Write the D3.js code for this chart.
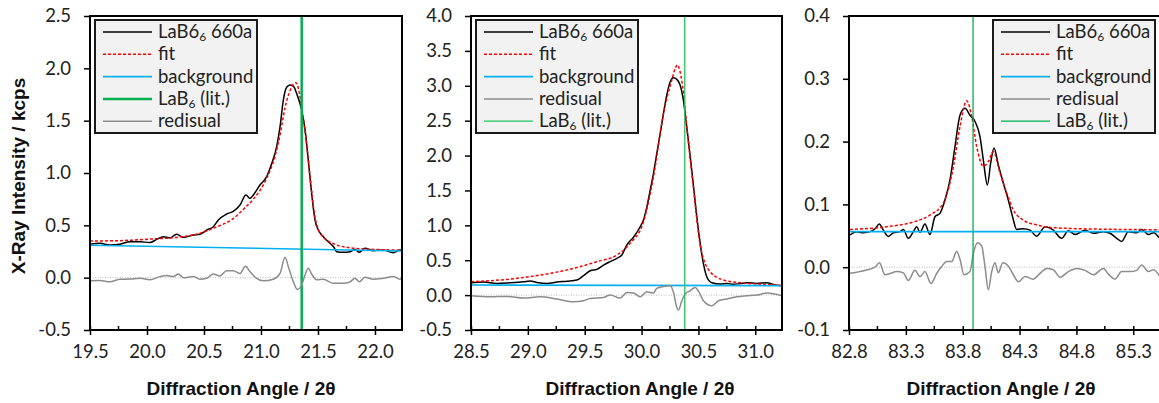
<!DOCTYPE html>
<html>
<head>
<meta charset="utf-8">
<script src="https://cdn.jsdelivr.net/npm/d3@7.9.0/dist/d3.min.js"></script>
<style>
  body { margin: 0; background: #fff; }
  text { font-family: Lato, "Open Sans", sans-serif; fill: #222; }
  .title { font-family: "Liberation Sans", Arial, sans-serif; font-weight: bold; fill: #111; }
</style>
</head>
<body>
<svg id="chart" width="1159" height="403"></svg>
<script>
// ---- panel 1 : LaB6 (100) ----
const p1Data = [[19.5,0.318],[19.588,0.328],[19.675,0.312],[19.763,0.32],[19.851,0.344],[19.939,0.344],[20.026,0.335],[20.085,0.366],[20.143,0.392],[20.202,0.382],[20.26,0.414],[20.319,0.385],[20.406,0.408],[20.465,0.414],[20.523,0.455],[20.582,0.487],[20.626,0.551],[20.699,0.608],[20.757,0.634],[20.816,0.694],[20.868,0.79],[20.904,0.758],[20.933,0.79],[20.991,0.885],[21.05,0.965],[21.094,1.09],[21.137,1.25],[21.167,1.44],[21.196,1.697],[21.225,1.819],[21.254,1.841],[21.284,1.83],[21.313,1.76],[21.357,1.6],[21.386,1.42],[21.415,1.12],[21.445,0.8],[21.474,0.55],[21.503,0.455],[21.547,0.391],[21.605,0.328],[21.64,0.29],[21.664,0.248],[21.722,0.242],[21.781,0.248],[21.825,0.27],[21.863,0.242],[21.912,0.28],[21.985,0.258],[22.073,0.264],[22.161,0.239],[22.219,0.264],[22.24,0.26]];
const p1Fit = [[19.5,0.35],[19.8,0.355],[20.03,0.369],[20.3,0.39],[20.465,0.424],[20.6,0.48],[20.757,0.565],[20.87,0.68],[20.933,0.75],[21.05,0.95],[21.12,1.15],[21.17,1.38],[21.21,1.62],[21.26,1.8],[21.307,1.863],[21.33,1.8],[21.36,1.6],[21.4,1.28],[21.44,0.87],[21.47,0.6],[21.5,0.47],[21.55,0.385],[21.635,0.325],[21.75,0.29],[21.9,0.275],[22.05,0.268],[22.24,0.262]];
const p1Background = [[19.5,0.31],[22.24,0.255]];
const p1Residual = [[19.5,-0.03],[19.588,-0.028],[19.675,-0.04],[19.763,-0.015],[19.851,-0.013],[19.939,-0.006],[20.026,-0.02],[20.114,0.01],[20.173,0.02],[20.231,0.01],[20.275,0.035],[20.319,0.0],[20.406,0.01],[20.465,-0.015],[20.523,-0.006],[20.582,0.035],[20.64,0.016],[20.699,0.067],[20.757,0.067],[20.816,0.04],[20.864,0.108],[20.904,0.057],[20.962,-0.006],[21.02,-0.03],[21.108,-0.015],[21.167,0.04],[21.211,0.195],[21.24,0.105],[21.284,-0.04],[21.319,-0.111],[21.357,-0.07],[21.386,0.025],[21.415,0.089],[21.444,0.035],[21.488,-0.02],[21.547,-0.015],[21.635,-0.054],[21.722,-0.054],[21.781,-0.04],[21.825,-0.006],[21.863,-0.04],[21.912,0.003],[21.985,-0.015],[22.073,-0.006],[22.161,0.01],[22.219,-0.015],[22.24,-0.01]];
const p1Lit = 21.357;
const p1XTicks = [19.5, 20.0, 20.5, 21.0, 21.5, 22.0];
const p1YTicks = [-0.5, 0.0, 0.5, 1.0, 1.5, 2.0, 2.5];

// ---- panel 2 : LaB6 (110) ----
const p2Data = [[28.5,0.178],[28.611,0.187],[28.728,0.168],[28.846,0.178],[28.963,0.192],[29.021,0.202],[29.08,0.182],[29.168,0.168],[29.256,0.187],[29.344,0.2],[29.431,0.216],[29.49,0.278],[29.549,0.35],[29.607,0.369],[29.666,0.43],[29.724,0.48],[29.783,0.527],[29.827,0.575],[29.871,0.72],[29.929,0.83],[29.988,0.98],[30.017,1.076],[30.047,1.267],[30.076,1.506],[30.105,1.745],[30.134,2.03],[30.164,2.318],[30.193,2.605],[30.222,2.868],[30.252,3.059],[30.28,3.115],[30.31,3.092],[30.339,3.011],[30.369,2.78],[30.398,2.4],[30.427,2.0],[30.457,1.56],[30.486,1.12],[30.515,0.75],[30.544,0.45],[30.574,0.26],[30.618,0.178],[30.691,0.159],[30.75,0.168],[30.808,0.154],[30.867,0.165],[30.925,0.178],[31.013,0.168],[31.101,0.178],[31.16,0.154],[31.24,0.13]];
const p2Fit = [[28.5,0.192],[28.816,0.225],[29.109,0.287],[29.402,0.383],[29.607,0.479],[29.783,0.575],[29.9,0.742],[30.017,1.052],[30.105,1.697],[30.193,2.605],[30.266,3.083],[30.296,3.25],[30.316,3.298],[30.339,3.2],[30.369,2.89],[30.398,2.41],[30.457,1.52],[30.515,0.72],[30.559,0.455],[30.603,0.335],[30.72,0.216],[30.867,0.178],[31.013,0.159],[31.24,0.14]];
const p2Background = [[28.5,0.145],[31.24,0.135]];
const p2Residual = [[28.5,-0.01],[28.67,-0.024],[28.816,-0.019],[28.963,-0.043],[29.109,-0.024],[29.256,-0.057],[29.402,-0.096],[29.49,-0.08],[29.549,-0.048],[29.666,-0.033],[29.724,0.0],[29.812,-0.043],[29.871,0.038],[29.929,0.029],[29.988,-0.024],[30.047,0.048],[30.105,0.029],[30.134,0.096],[30.193,0.124],[30.252,0.135],[30.281,0.038],[30.31,-0.177],[30.325,-0.215],[30.354,-0.08],[30.383,0.014],[30.427,0.062],[30.471,0.11],[30.501,0.053],[30.544,-0.08],[30.618,-0.153],[30.676,-0.08],[30.75,-0.057],[30.837,-0.024],[30.925,-0.01],[31.013,0.0],[31.101,0.029],[31.24,-0.01]];
const p2Lit = 30.38;
const p2XTicks = [28.5, 29.0, 29.5, 30.0, 30.5, 31.0];
const p2YTicks = [-0.5, 0.0, 0.5, 1.0, 1.5, 2.0, 2.5, 3.0, 3.5, 4.0];

// ---- panel 3 : LaB6 (high angle) ----
const p3Data = [[82.809,0.0513],[82.867,0.0566],[82.926,0.055],[82.985,0.0566],[83.029,0.0613],[83.067,0.0688],[83.102,0.059],[83.146,0.049],[83.19,0.055],[83.249,0.0566],[83.278,0.06],[83.322,0.046],[83.366,0.0566],[83.395,0.0645],[83.424,0.0555],[83.468,0.0688],[83.512,0.052],[83.556,0.0803],[83.6,0.0858],[83.644,0.107],[83.688,0.139],[83.732,0.192],[83.776,0.242],[83.82,0.253],[83.864,0.242],[83.908,0.232],[83.952,0.208],[83.981,0.171],[84.017,0.131],[84.046,0.166],[84.075,0.19],[84.113,0.163],[84.157,0.134],[84.201,0.107],[84.239,0.08],[84.275,0.06],[84.333,0.0613],[84.392,0.059],[84.451,0.0493],[84.524,0.0645],[84.597,0.059],[84.67,0.046],[84.729,0.058],[84.788,0.052],[84.876,0.059],[84.949,0.054],[85.037,0.0566],[85.096,0.054],[85.154,0.046],[85.198,0.041],[85.257,0.0566],[85.33,0.055],[85.374,0.06],[85.433,0.052],[85.477,0.055],[85.535,0.045]];
const p3Fit = [[82.809,0.06],[83.131,0.0645],[83.366,0.072],[83.512,0.083],[83.63,0.102],[83.718,0.16],[83.776,0.224],[83.835,0.265],[83.879,0.24],[83.923,0.192],[83.981,0.161],[84.025,0.168],[84.069,0.184],[84.128,0.15],[84.187,0.118],[84.245,0.091],[84.333,0.075],[84.451,0.0673],[84.597,0.063],[84.89,0.061],[85.535,0.0597]];
const p3Background = [[82.8,0.0566],[85.535,0.0566]];
const p3Residual = [[82.809,-0.0098],[82.867,-0.008],[82.955,-0.0045],[83.029,0.0],[83.067,0.007],[83.117,-0.012],[83.161,-0.01],[83.22,-0.007],[83.278,-0.009],[83.322,-0.021],[83.38,-0.005],[83.424,-0.015],[83.468,-0.007],[83.521,-0.026],[83.571,-0.01],[83.615,0.001],[83.659,0.009],[83.703,0.009],[83.747,0.025],[83.776,0.0125],[83.811,-0.012],[83.864,-0.007],[83.894,0.022],[83.929,0.039],[83.967,0.034],[83.996,0.001],[84.025,-0.036],[84.055,-0.007],[84.084,0.007],[84.113,-0.009],[84.152,0.007],[84.201,0.002],[84.245,-0.012],[84.289,-0.023],[84.348,-0.015],[84.421,-0.019],[84.48,-0.0098],[84.539,-0.002],[84.597,-0.004],[84.656,-0.016],[84.729,-0.007],[84.802,-0.002],[84.876,-0.005],[84.949,-0.012],[85.037,-0.002],[85.081,-0.011],[85.139,-0.019],[85.198,-0.007],[85.271,-0.007],[85.33,-0.005],[85.374,0.0035],[85.433,-0.007],[85.477,-0.004],[85.535,-0.015]];
const p3Lit = 83.891;
const p3XTicks = [82.8, 83.3, 83.8, 84.3, 84.8, 85.3];
const p3YTicks = [-0.1, 0.0, 0.1, 0.2, 0.3, 0.4];

const legendOrderA = ["data", "fit", "background", "lit", "residual"];
const legendOrderB = ["data", "fit", "background", "residual", "lit"];

const svg = d3.select("#chart");
const top_ = 16, bottom = 330;
const labelSize = "18.5px";

const styles = {
  data:       { color: "#000000", width: 1.5, dash: null },
  fit:        { color: "#ff0000", width: 1.5, dash: "3,2" },
  background: { color: "#00b0f0", width: 1.6, dash: null },
  residual:   { color: "#8c8c8c", width: 1.5, dash: null }
};

function legendLabel(sel, key) {
  if (key === "data") {
    sel.append("tspan").text("LaB6");
    sel.append("tspan").attr("font-size", "12px").attr("dy", 3).text("6");
    sel.append("tspan").attr("dy", -3).text(" 660a");
  } else if (key === "lit") {
    sel.append("tspan").text("LaB");
    sel.append("tspan").attr("font-size", "12px").attr("dy", 3).text("6");
    sel.append("tspan").attr("dy", -3).text(" (lit.)");
  } else if (key === "residual") {
    sel.text("redisual");
  } else {
    sel.text(key);
  }
}

function drawPanel(cfg, idx) {
  const x = d3.scaleLinear().domain(cfg.xDomain).range([cfg.left, cfg.right]);
  const y = d3.scaleLinear().domain(cfg.yDomain).range([bottom, top_]);
  const g = svg.append("g");

  g.append("clipPath").attr("id", "clip" + idx)
    .append("rect").attr("x", cfg.left).attr("y", top_)
    .attr("width", cfg.right - cfg.left).attr("height", bottom - top_);

  const plot = g.append("g").attr("clip-path", `url(#clip${idx})`);
  const line = d3.line().x(d => x(d[0])).y(d => y(d[1])).curve(d3.curveMonotoneX);

  // zero reference
  plot.append("line")
    .attr("x1", cfg.left).attr("x2", cfg.right)
    .attr("y1", y(0)).attr("y2", y(0))
    .attr("stroke", "#bdbdbd").attr("stroke-width", 1).attr("stroke-dasharray", "1,1.5");

  const series = { data: cfg.data, fit: cfg.fit, background: cfg.background, residual: cfg.residual };
  cfg.legend.forEach(key => {
    if (key === "lit") {
      plot.append("line")
        .attr("x1", x(cfg.lit)).attr("x2", x(cfg.lit))
        .attr("y1", top_).attr("y2", bottom)
        .attr("stroke", cfg.litColor).attr("stroke-width", cfg.litWidth);
    } else {
      const s = styles[key];
      plot.append("path").datum(series[key])
        .attr("d", line).attr("fill", "none")
        .attr("stroke", s.color).attr("stroke-width", s.width)
        .attr("stroke-dasharray", s.dash);
    }
  });

  // frame
  g.append("rect")
    .attr("x", cfg.left).attr("y", top_)
    .attr("width", cfg.right - cfg.left).attr("height", bottom - top_)
    .attr("fill", "none").attr("stroke", "#000").attr("stroke-width", 2);

  // y axis
  const yAxis = g.append("g").attr("transform", `translate(${cfg.left},0)`)
    .call(d3.axisLeft(y).tickValues(cfg.yTicks).tickSize(6).tickPadding(13)
      .tickFormat(d => d.toFixed(1)));
  yAxis.select(".domain").remove();
  yAxis.selectAll(".tick line").attr("stroke", "#000").attr("stroke-width", 1.5);
  yAxis.selectAll(".tick text").attr("font-size", labelSize).attr("font-family", "Lato").attr("fill", "#222");

  // x axis, major ticks crossing, minor ticks inside
  const xAxis = g.append("g").attr("transform", `translate(0,${bottom})`)
    .call(d3.axisBottom(x).tickValues(cfg.xTicks).tickSize(5).tickPadding(10)
      .tickFormat(d => d.toFixed(1)));
  xAxis.select(".domain").remove();
  xAxis.selectAll(".tick line").attr("y1", -4).attr("stroke", "#000").attr("stroke-width", 1.5);
  xAxis.selectAll(".tick text").attr("font-size", labelSize).attr("font-family", "Lato").attr("fill", "#222");

  const minor = cfg.xTicks.map(t => t + 0.25).filter(t => t < cfg.xDomain[1]);
  g.selectAll(null).data(minor).enter().append("line")
    .attr("x1", d => x(d)).attr("x2", d => x(d))
    .attr("y1", bottom - 4).attr("y2", bottom)
    .attr("stroke", "#000").attr("stroke-width", 1.5);

  // x title
  g.append("text").attr("class", "title")
    .attr("x", cfg.titleX).attr("y", 395)
    .attr("text-anchor", "middle").attr("font-size", "19px")
    .text("Diffraction Angle / 2θ");

  // legend
  const lg = g.append("g").attr("transform", `translate(${cfg.legendX},20)`);
  lg.append("rect").attr("width", 162).attr("height", 113)
    .attr("fill", "#f2f2f2").attr("stroke", "#1a1a1a").attr("stroke-width", 2);
  cfg.legend.forEach((key, i) => {
    const ry = 12 + i * 22.3;
    const isLit = key === "lit";
    lg.append("line").attr("x1", 8).attr("x2", 57).attr("y1", ry).attr("y2", ry)
      .attr("stroke", isLit ? cfg.litColor : styles[key].color)
      .attr("stroke-width", isLit ? cfg.litWidth : styles[key].width)
      .attr("stroke-dasharray", isLit ? null : styles[key].dash);
    const t = lg.append("text").attr("x", 63).attr("y", ry + 6)
      .attr("font-size", labelSize);
    legendLabel(t, key);
  });
}

drawPanel({ left: 90, right: 402, xDomain: [19.5, 22.237], yDomain: [-0.5, 2.5],
  data: p1Data, fit: p1Fit, background: p1Background, residual: p1Residual, lit: p1Lit,
  xTicks: p1XTicks, yTicks: p1YTicks, legend: legendOrderA, legendX: 95, titleX: 241,
  litColor: "#00b050", litWidth: 2.5 }, 1);

drawPanel({ left: 471, right: 782, xDomain: [28.5, 31.235], yDomain: [-0.5, 4.0],
  data: p2Data, fit: p2Fit, background: p2Background, residual: p2Residual, lit: p2Lit,
  xTicks: p2XTicks, yTicks: p2YTicks, legend: legendOrderB, legendX: 476, titleX: 640,
  litColor: "#22c35e", litWidth: 1.3 }, 2);

drawPanel({ left: 849, right: 1160, xDomain: [82.8, 85.535], yDomain: [-0.1, 0.4],
  data: p3Data, fit: p3Fit, background: p3Background, residual: p3Residual, lit: p3Lit,
  xTicks: p3XTicks, yTicks: p3YTicks, legend: legendOrderB, legendX: 993, titleX: 1001,
  litColor: "#00b050", litWidth: 1.3 }, 3);

// shared y title
svg.append("text").attr("class", "title")
  .attr("transform", "translate(25,176) rotate(-90)")
  .attr("text-anchor", "middle").attr("font-size", "19px")
  .text("X-Ray Intensity / kcps");
</script>
</body>
</html>
